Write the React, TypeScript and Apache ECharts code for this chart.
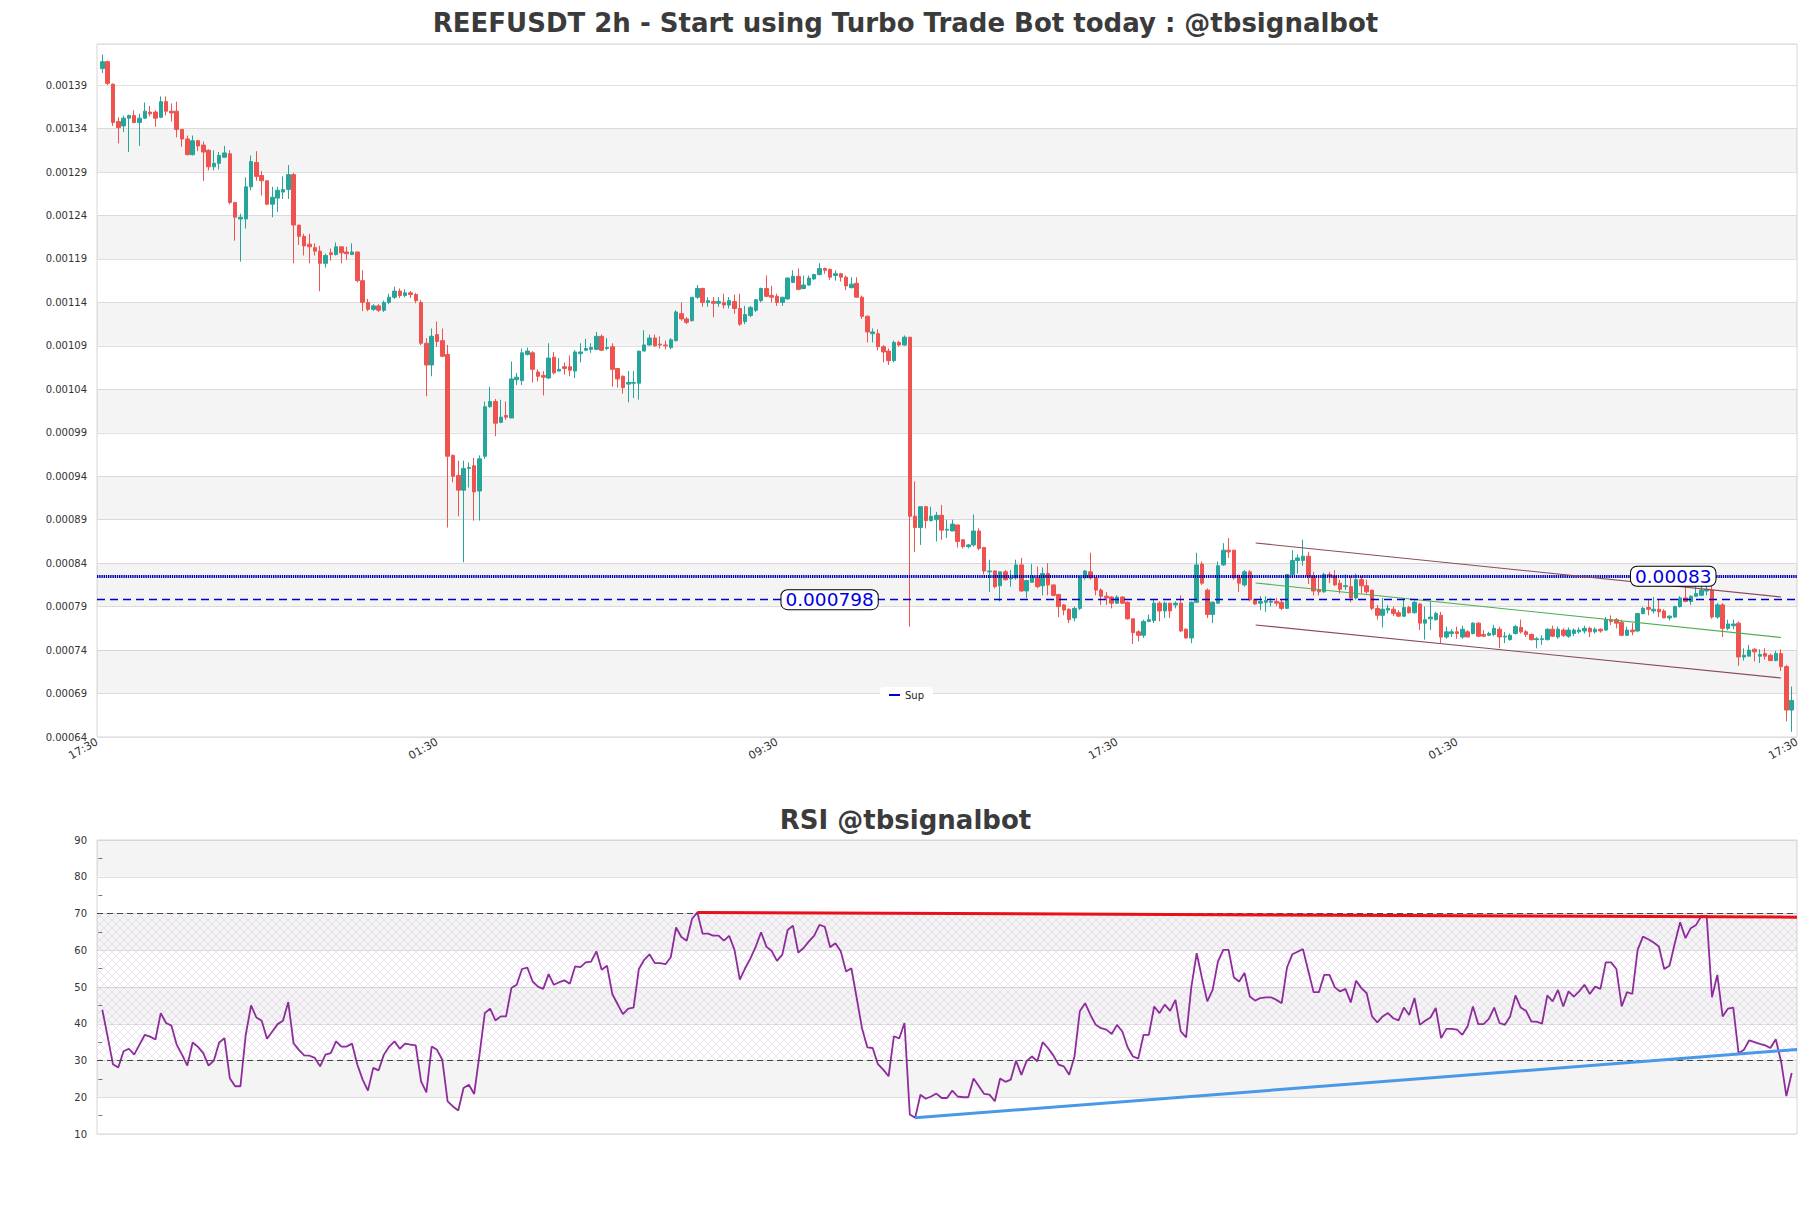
import React, { useEffect, useRef } from "react";
import * as echarts from "echarts";

const TITLE = "REEFUSDT 2h - Start using Turbo Trade Bot today : @tbsignalbot";
const RSI_TITLE = "RSI @tbsignalbot";
const X_TICK_LABELS = ["17:30", "01:30", "09:30", "17:30", "01:30", "17:30"];

// [open, high, low, close] per 2h candle
const OHLC: number[][] = [
  [0.001409,0.001425,0.001404,0.001417],[0.001417,0.001418,0.001390,0.001392],[0.001391,0.001392,0.001343,0.001347],[0.001348,0.001353,0.001323,0.001341],
  [0.001343,0.001355,0.001336,0.001352],[0.001352,0.001356,0.001313,0.001355],[0.001355,0.001361,0.001346,0.001347],[0.001347,0.001357,0.001320,0.001352],
  [0.001352,0.001370,0.001351,0.001360],[0.001359,0.001366,0.001354,0.001357],[0.001359,0.001361,0.001342,0.001352],[0.001353,0.001377,0.001352,0.001371],
  [0.001371,0.001377,0.001355,0.001360],[0.001360,0.001369,0.001348,0.001358],[0.001360,0.001371,0.001330,0.001339],[0.001339,0.001339,0.001319,0.001328],
  [0.001328,0.001332,0.001309,0.001310],[0.001310,0.001332,0.001309,0.001326],[0.001326,0.001327,0.001314,0.001320],[0.001321,0.001325,0.001280,0.001313],
  [0.001315,0.001316,0.001292,0.001296],[0.001296,0.001315,0.001292,0.001300],[0.001300,0.001313,0.001293,0.001309],[0.001307,0.001320,0.001307,0.001312],
  [0.001311,0.001315,0.001253,0.001255],[0.001255,0.001255,0.001211,0.001238],[0.001236,0.001242,0.001187,0.001238],[0.001236,0.001284,0.001225,0.001273],
  [0.001273,0.001309,0.001269,0.001302],[0.001301,0.001314,0.001280,0.001285],[0.001286,0.001291,0.001263,0.001280],[0.001280,0.001280,0.001252,0.001253],
  [0.001253,0.001273,0.001238,0.001261],[0.001260,0.001273,0.001244,0.001269],[0.001267,0.001285,0.001259,0.001270],[0.001270,0.001298,0.001259,0.001287],
  [0.001287,0.001289,0.001185,0.001229],[0.001229,0.001229,0.001206,0.001216],[0.001216,0.001219,0.001194,0.001205],[0.001207,0.001219,0.001185,0.001204],
  [0.001203,0.001208,0.001194,0.001199],[0.001199,0.001205,0.001153,0.001185],[0.001185,0.001196,0.001180,0.001194],[0.001197,0.001202,0.001188,0.001195],
  [0.001195,0.001209,0.001194,0.001204],[0.001204,0.001204,0.001185,0.001197],[0.001198,0.001204,0.001189,0.001196],[0.001195,0.001208,0.001195,0.001198],
  [0.001198,0.001198,0.001163,0.001165],[0.001165,0.001177,0.001130,0.001140],[0.001140,0.001144,0.001130,0.001132],[0.001132,0.001138,0.001130,0.001136],
  [0.001136,0.001138,0.001129,0.001131],[0.001131,0.001142,0.001129,0.001140],[0.001140,0.001150,0.001138,0.001146],[0.001146,0.001158,0.001144,0.001153],
  [0.001153,0.001156,0.001145,0.001148],[0.001148,0.001155,0.001146,0.001151],[0.001151,0.001153,0.001145,0.001149],[0.001149,0.001151,0.001139,0.001142],
  [0.001140,0.001143,0.001091,0.001093],[0.001093,0.001099,0.001032,0.001068],[0.001068,0.001110,0.001055,0.001101],[0.001103,0.001118,0.001089,0.001095],
  [0.001096,0.001110,0.001077,0.001078],[0.001080,0.001091,0.000881,0.000963],[0.000964,0.000965,0.000933,0.000940],[0.000941,0.000958,0.000894,0.000924],
  [0.000924,0.000958,0.000841,0.000949],[0.000949,0.000956,0.000927,0.000950],[0.000952,0.000961,0.000889,0.000922],[0.000923,0.000964,0.000889,0.000960],
  [0.000963,0.001026,0.000960,0.001020],[0.001020,0.001043,0.001019,0.001026],[0.001026,0.001029,0.000986,0.001001],[0.001002,0.001028,0.001001,0.001008],
  [0.001010,0.001026,0.001005,0.001008],[0.001007,0.001072,0.001007,0.001052],[0.001051,0.001059,0.001045,0.001054],[0.001050,0.001087,0.001045,0.001082],
  [0.001080,0.001088,0.001079,0.001084],[0.001082,0.001084,0.001048,0.001063],[0.001060,0.001063,0.001049,0.001055],[0.001056,0.001061,0.001033,0.001054],
  [0.001053,0.001093,0.001052,0.001076],[0.001077,0.001083,0.001057,0.001059],[0.001061,0.001076,0.001061,0.001063],[0.001066,0.001071,0.001057,0.001064],
  [0.001066,0.001079,0.001055,0.001062],[0.001061,0.001085,0.001053,0.001083],[0.001081,0.001093,0.001071,0.001083],[0.001085,0.001098,0.001084,0.001087],
  [0.001086,0.001093,0.001082,0.001088],[0.001086,0.001106,0.001085,0.001101],[0.001101,0.001103,0.001084,0.001085],[0.001087,0.001099,0.001085,0.001088],
  [0.001089,0.001093,0.001043,0.001063],[0.001064,0.001064,0.001042,0.001052],[0.001055,0.001056,0.001035,0.001042],[0.001046,0.001061,0.001025,0.001048],
  [0.001047,0.001061,0.001030,0.001048],[0.001047,0.001084,0.001028,0.001084],[0.001084,0.001108,0.001084,0.001091],[0.001091,0.001103,0.001090,0.001099],
  [0.001099,0.001103,0.001089,0.001090],[0.001092,0.001101,0.001087,0.001091],[0.001091,0.001096,0.001086,0.001090],[0.001088,0.001099,0.001086,0.001097],
  [0.001096,0.001131,0.001095,0.001129],[0.001127,0.001140,0.001119,0.001121],[0.001121,0.001123,0.001115,0.001117],[0.001119,0.001146,0.001118,0.001146],
  [0.001146,0.001160,0.001144,0.001156],[0.001156,0.001157,0.001135,0.001140],[0.001140,0.001146,0.001135,0.001142],[0.001141,0.001146,0.001123,0.001139],
  [0.001139,0.001146,0.001135,0.001141],[0.001140,0.001150,0.001133,0.001137],[0.001137,0.001146,0.001133,0.001142],[0.001141,0.001149,0.001127,0.001133],
  [0.001133,0.001150,0.001113,0.001115],[0.001118,0.001136,0.001115,0.001126],[0.001125,0.001136,0.001123,0.001134],[0.001131,0.001144,0.001129,0.001143],
  [0.001142,0.001157,0.001140,0.001156],[0.001156,0.001171,0.001146,0.001147],[0.001148,0.001159,0.001140,0.001146],[0.001147,0.001150,0.001136,0.001140],
  [0.001140,0.001146,0.001136,0.001146],[0.001144,0.001169,0.001143,0.001168],[0.001163,0.001177,0.001162,0.001170],[0.001170,0.001179,0.001154,0.001155],
  [0.001156,0.001171,0.001155,0.001160],[0.001160,0.001171,0.001159,0.001168],[0.001167,0.001173,0.001166,0.001172],[0.001172,0.001185,0.001171,0.001179],
  [0.001179,0.001180,0.001173,0.001177],[0.001178,0.001179,0.001166,0.001169],[0.001171,0.001177,0.001165,0.001173],[0.001173,0.001174,0.001164,0.001169],
  [0.001169,0.001171,0.001154,0.001159],[0.001157,0.001169,0.001156,0.001161],[0.001162,0.001169,0.001146,0.001146],[0.001146,0.001148,0.001121,0.001124],
  [0.001124,0.001125,0.001094,0.001106],[0.001104,0.001110,0.001094,0.001106],[0.001104,0.001109,0.001085,0.001089],[0.001089,0.001091,0.001071,0.001083],
  [0.001084,0.001087,0.001068,0.001073],[0.001073,0.001096,0.001071,0.001094],[0.001094,0.001096,0.001089,0.001091],[0.001091,0.001102,0.001090,0.001100],
  [0.001100,0.001100,0.000767,0.000894],[0.000894,0.000934,0.000853,0.000881],[0.000881,0.000905,0.000861,0.000905],[0.000905,0.000906,0.000880,0.000889],
  [0.000889,0.000905,0.000888,0.000894],[0.000890,0.000899,0.000865,0.000895],[0.000895,0.000907,0.000867,0.000878],[0.000878,0.000890,0.000869,0.000879],
  [0.000877,0.000890,0.000877,0.000885],[0.000884,0.000884,0.000858,0.000865],[0.000867,0.000867,0.000857,0.000859],[0.000859,0.000862,0.000857,0.000861],
  [0.000861,0.000896,0.000859,0.000877],[0.000877,0.000880,0.000855,0.000857],[0.000858,0.000858,0.000827,0.000831],[0.000830,0.000844,0.000807,0.000831],
  [0.000831,0.000832,0.000811,0.000813],[0.000814,0.000830,0.000796,0.000830],[0.000830,0.000832,0.000820,0.000821],[0.000822,0.000832,0.000813,0.000823],
  [0.000823,0.000844,0.000821,0.000838],[0.000838,0.000846,0.000807,0.000808],[0.000808,0.000821,0.000800,0.000820],[0.000818,0.000839,0.000818,0.000825],
  [0.000823,0.000836,0.000811,0.000813],[0.000814,0.000835,0.000803,0.000828],[0.000828,0.000840,0.000803,0.000815],[0.000815,0.000815,0.000802,0.000803],
  [0.000804,0.000804,0.000778,0.000790],[0.000792,0.000793,0.000780,0.000786],[0.000787,0.000788,0.000771,0.000775],[0.000777,0.000790,0.000773,0.000788],
  [0.000788,0.000825,0.000786,0.000823],[0.000823,0.000832,0.000821,0.000831],[0.000830,0.000852,0.000821,0.000823],[0.000823,0.000824,0.000803,0.000809],
  [0.000809,0.000811,0.000792,0.000802],[0.000802,0.000807,0.000792,0.000800],[0.000801,0.000802,0.000788,0.000794],[0.000794,0.000803,0.000793,0.000801],
  [0.000801,0.000802,0.000793,0.000794],[0.000795,0.000796,0.000775,0.000776],[0.000776,0.000776,0.000747,0.000760],[0.000761,0.000763,0.000750,0.000757],
  [0.000757,0.000775,0.000754,0.000773],[0.000773,0.000781,0.000772,0.000775],[0.000774,0.000798,0.000771,0.000794],[0.000794,0.000796,0.000773,0.000785],
  [0.000785,0.000796,0.000777,0.000794],[0.000794,0.000794,0.000777,0.000785],[0.000792,0.000796,0.000788,0.000794],[0.000794,0.000803,0.000761,0.000762],
  [0.000764,0.000765,0.000753,0.000754],[0.000754,0.000796,0.000748,0.000795],[0.000795,0.000852,0.000794,0.000838],[0.000839,0.000842,0.000815,0.000817],
  [0.000809,0.000811,0.000777,0.000781],[0.000781,0.000796,0.000771,0.000795],[0.000794,0.000842,0.000793,0.000837],[0.000838,0.000863,0.000837,0.000855],
  [0.000855,0.000869,0.000846,0.000853],[0.000855,0.000855,0.000821,0.000823],[0.000823,0.000827,0.000807,0.000817],[0.000815,0.000832,0.000813,0.000830],
  [0.000830,0.000832,0.000796,0.000798],[0.000798,0.000798,0.000792,0.000793],[0.000794,0.000802,0.000786,0.000796],[0.000795,0.000802,0.000784,0.000797],
  [0.000795,0.000800,0.000790,0.000796],[0.000796,0.000800,0.000791,0.000794],[0.000795,0.000798,0.000786,0.000788],[0.000788,0.000827,0.000788,0.000827],
  [0.000827,0.000855,0.000827,0.000843],[0.000843,0.000850,0.000828,0.000846],[0.000843,0.000867,0.000837,0.000848],[0.000848,0.000853,0.000816,0.000825],
  [0.000825,0.000830,0.000803,0.000808],[0.000809,0.000823,0.000803,0.000807],[0.000807,0.000829,0.000806,0.000827],[0.000827,0.000830,0.000817,0.000825],
  [0.000825,0.000832,0.000814,0.000815],[0.000817,0.000821,0.000805,0.000810],[0.000813,0.000827,0.000809,0.000814],[0.000813,0.000825,0.000795,0.000800],
  [0.000800,0.000828,0.000798,0.000821],[0.000821,0.000825,0.000805,0.000814],[0.000814,0.000821,0.000805,0.000807],[0.000809,0.000809,0.000786,0.000788],
  [0.000788,0.000792,0.000775,0.000780],[0.000780,0.000800,0.000766,0.000787],[0.000786,0.000792,0.000782,0.000788],[0.000787,0.000790,0.000779,0.000782],
  [0.000783,0.000786,0.000778,0.000779],[0.000779,0.000798,0.000778,0.000789],[0.000789,0.000791,0.000782,0.000783],[0.000783,0.000797,0.000782,0.000795],
  [0.000793,0.000794,0.000763,0.000771],[0.000771,0.000790,0.000752,0.000775],[0.000776,0.000796,0.000763,0.000778],[0.000775,0.000784,0.000774,0.000782],
  [0.000780,0.000784,0.000748,0.000755],[0.000755,0.000767,0.000753,0.000761],[0.000759,0.000764,0.000755,0.000761],[0.000761,0.000767,0.000753,0.000759],
  [0.000755,0.000768,0.000753,0.000764],[0.000761,0.000763,0.000755,0.000755],[0.000759,0.000772,0.000758,0.000771],[0.000771,0.000772,0.000755,0.000756],
  [0.000758,0.000763,0.000755,0.000756],[0.000757,0.000761,0.000756,0.000759],[0.000758,0.000769,0.000756,0.000765],[0.000764,0.000767,0.000742,0.000755],
  [0.000755,0.000761,0.000748,0.000756],[0.000752,0.000759,0.000751,0.000757],[0.000759,0.000769,0.000758,0.000767],[0.000766,0.000775,0.000759,0.000761],
  [0.000761,0.000763,0.000755,0.000758],[0.000758,0.000759,0.000751,0.000752],[0.000752,0.000755,0.000742,0.000753],[0.000752,0.000757,0.000746,0.000753],
  [0.000752,0.000765,0.000751,0.000764],[0.000764,0.000768,0.000755,0.000756],[0.000755,0.000767,0.000753,0.000764],[0.000763,0.000765,0.000755,0.000757],
  [0.000756,0.000766,0.000754,0.000763],[0.000759,0.000765,0.000756,0.000763],[0.000761,0.000766,0.000759,0.000763],[0.000762,0.000768,0.000759,0.000765],
  [0.000765,0.000767,0.000755,0.000761],[0.000761,0.000766,0.000759,0.000764],[0.000764,0.000765,0.000760,0.000762],[0.000763,0.000778,0.000762,0.000775],
  [0.000775,0.000780,0.000769,0.000773],[0.000775,0.000777,0.000765,0.000771],[0.000772,0.000775,0.000756,0.000757],[0.000757,0.000767,0.000756,0.000763],
  [0.000763,0.000771,0.000757,0.000761],[0.000762,0.000783,0.000761,0.000782],[0.000782,0.000790,0.000781,0.000788],[0.000789,0.000798,0.000780,0.000787],
  [0.000785,0.000801,0.000782,0.000787],[0.000787,0.000799,0.000778,0.000784],[0.000785,0.000787,0.000777,0.000777],[0.000777,0.000780,0.000774,0.000779],
  [0.000778,0.000791,0.000777,0.000790],[0.000790,0.000802,0.000789,0.000800],[0.000800,0.000817,0.000795,0.000796],[0.000796,0.000803,0.000792,0.000802],
  [0.000802,0.000817,0.000801,0.000805],[0.000803,0.000817,0.000802,0.000809],[0.000808,0.000817,0.000803,0.000810],[0.000809,0.000817,0.000776,0.000778],
  [0.000778,0.000794,0.000776,0.000792],[0.000792,0.000794,0.000755,0.000765],[0.000765,0.000775,0.000763,0.000770],[0.000768,0.000775,0.000764,0.000770],
  [0.000771,0.000773,0.000722,0.000732],[0.000732,0.000742,0.000728,0.000734],[0.000733,0.000746,0.000733,0.000740],[0.000741,0.000742,0.000727,0.000738],
  [0.000733,0.000741,0.000725,0.000735],[0.000736,0.000742,0.000729,0.000733],[0.000734,0.000736,0.000728,0.000728],[0.000728,0.000739,0.000727,0.000736],
  [0.000736,0.000741,0.000716,0.000721],[0.000721,0.000723,0.000658,0.000671],[0.000671,0.000698,0.000646,0.000682],
];

const RSI: number[] = [
  43.8, 36.5, 29.0, 28.1, 32.5, 33.2, 31.6, 34.3, 37.0, 36.5,
  35.7, 42.9, 40.2, 39.5, 34.3, 31.6, 28.6, 34.9, 33.7, 32.0,
  28.6, 30.0, 34.9, 36.1, 25.2, 23.0, 23.0, 37.0, 45.0, 41.7,
  40.8, 35.9, 37.9, 39.9, 40.8, 45.9, 34.7, 32.9, 31.4, 31.3,
  30.7, 28.4, 31.6, 32.0, 35.2, 33.8, 33.8, 34.6, 28.9, 24.8,
  21.8, 28.0, 27.3, 31.6, 33.8, 35.2, 33.2, 34.6, 34.3, 34.1,
  24.3, 21.3, 33.8, 32.9, 30.2, 18.9, 17.5, 16.4, 22.5, 23.4,
  20.9, 31.6, 42.9, 44.1, 40.9, 42.0, 42.0, 49.7, 50.6, 54.9,
  55.3, 51.5, 50.1, 49.5, 53.5, 50.6, 51.3, 51.8, 50.9, 55.6,
  55.4, 56.7, 56.9, 59.7, 54.7, 55.8, 48.1, 45.3, 42.6, 44.1,
  44.4, 54.9, 57.4, 58.9, 56.5, 56.5, 56.2, 58.1, 66.2, 63.6,
  62.6, 68.5, 70.3, 64.5, 64.5, 64.0, 64.0, 62.6, 63.9, 60.1,
  52.0, 55.1, 57.8, 61.0, 64.9, 61.0, 59.8, 57.1, 58.8, 65.5,
  66.7, 59.4, 60.6, 62.4, 64.0, 66.9, 66.4, 60.8, 61.9, 59.7,
  54.2, 55.1, 47.0, 38.8, 33.6, 33.4, 29.0, 27.5, 25.7, 36.6,
  36.0, 40.2, 15.3, 14.4, 20.7, 19.6, 20.2, 21.0, 19.8, 19.8,
  21.8, 20.2, 20.0, 20.0, 25.1, 23.0, 20.9, 20.7, 18.9, 25.1,
  24.2, 24.8, 29.9, 26.1, 29.9, 31.1, 29.8, 35.0, 33.4, 31.4,
  28.9, 28.4, 26.1, 31.1, 43.4, 45.6, 42.4, 39.7, 38.8, 38.4,
  37.2, 39.7, 37.9, 33.6, 31.1, 30.5, 37.0, 37.0, 44.7, 42.9,
  45.2, 43.5, 46.5, 37.9, 36.3, 50.1, 59.2, 52.4, 46.1, 49.2,
  56.9, 60.1, 60.1, 52.6, 51.5, 53.8, 47.4, 46.3, 47.0, 47.2,
  47.2, 46.5, 45.6, 55.3, 58.9, 59.6, 60.3, 54.4, 48.6, 48.6,
  53.3, 53.3, 49.9, 48.8, 49.5, 45.8, 51.7, 49.7, 48.3, 42.0,
  40.4, 42.0, 42.9, 41.5, 40.9, 44.4, 42.4, 47.0, 39.7, 40.8,
  41.7, 44.3, 36.1, 38.6, 38.6, 38.4, 37.0, 39.3, 44.7, 39.9,
  39.9, 41.3, 44.4, 40.2, 39.7, 42.0, 47.7, 44.4, 43.5, 40.6,
  40.6, 40.0, 47.7, 46.1, 49.2, 44.7, 48.8, 47.4, 48.8, 50.6,
  48.1, 50.1, 49.5, 56.7, 56.7, 54.9, 44.7, 48.6, 48.1, 60.1,
  63.7, 63.0, 62.1, 61.0, 54.9, 55.8, 61.9, 67.6, 63.3, 66.0,
  66.9, 69.3, 69.3, 47.2, 53.3, 42.0, 44.1, 44.4, 32.0, 32.9,
  35.5, 35.0, 34.5, 34.1, 33.4, 35.8, 29.8, 20.3, 26.6,
];

const X_MIN = -1;
const X_MAX = 319;

const SUP_LEVEL = 0.000798;
const SUP_LABEL = "0.000798";
const SUP_LABEL_X = 136.9;
const RES_LEVEL = 0.000825;
const RES_LABEL = "0.00083";
const RES_LABEL_X = 295.7;

// trend channel [x index, price]
const CHANNEL_UPPER = [[217.1, 0.0008632], [316.0, 0.0008011]];
const CHANNEL_MID = [[217.1, 0.0008172], [316.0, 0.0007545]];
const CHANNEL_LOWER = [[217.1, 0.0007689], [316.0, 0.0007079]];

// RSI trend lines [x index, rsi]
const RSI_RES_LINE = [[112, 70.3], [319, 69.0]];
const RSI_SUP_LINE = [[153, 14.4], [319, 33.0]];
const RSI_LEVELS = [70, 30];

const PRICE_BANDS = [
  [0.00069, 0.00074], [0.00079, 0.00084], [0.00089, 0.00094], [0.00099, 0.00104],
  [0.00109, 0.00114], [0.00119, 0.00124], [0.00129, 0.00134],
];
const RSI_BANDS = [[20, 30], [40, 50], [60, 70], [80, 90]];
const RSI_HATCH = [30, 70];

const GREEN = "#26a69a";
const RED = "#ef5350";
const FONT = "DejaVu Sans";

function makeHatch() {
  const c = document.createElement("canvas");
  c.width = 8;
  c.height = 8;
  const ctx = c.getContext("2d");
  if (ctx) {
    ctx.strokeStyle = "rgba(185,150,205,0.30)";
    ctx.lineWidth = 0.8;
    ctx.beginPath();
    ctx.moveTo(0, 0);
    ctx.lineTo(8, 8);
    ctx.moveTo(8, 0);
    ctx.lineTo(0, 8);
    ctx.stroke();
  }
  return c;
}

const hLine = (y: number, lineStyle: any) => [
  { coord: [X_MIN, y], lineStyle },
  { coord: [X_MAX, y] },
];

export default function App() {
  const ref = useRef<HTMLDivElement>(null);

  useEffect(() => {
    if (!ref.current) return;
    const chart = echarts.init(ref.current, null, { renderer: "svg", width: 1811, height: 1208 });
    const hatch = makeHatch();

    const boxLabel = {
      show: true,
      position: "inside",
      color: "#0000dd",
      fontSize: 18.5,
      fontFamily: FONT,
      backgroundColor: "#ffffff",
      borderColor: "#000000",
      borderWidth: 1,
      borderRadius: 6,
      padding: [1, 4, 0, 4],
      lineHeight: 18,
      formatter: (p: any) => p.name,
    };

    const option: any = {
      animation: false,
      backgroundColor: "#ffffff",
      textStyle: { fontFamily: FONT },
      title: [
        {
          text: TITLE,
          left: "center",
          top: 5,
          textStyle: { fontSize: 26, fontWeight: "bold", color: "#3b3b3b", fontFamily: FONT },
        },
        {
          text: RSI_TITLE,
          left: "center",
          top: 802,
          textStyle: { fontSize: 26, fontWeight: "bold", color: "#3b3b3b", fontFamily: FONT },
        },
      ],
      legend: {
        data: [{ name: "Sup", icon: "rect" }],
        left: 880,
        top: 687,
        itemWidth: 11,
        itemHeight: 2,
        itemGap: 5,
        padding: [3, 9],
        backgroundColor: "#ffffff",
        borderRadius: 4,
        textStyle: { fontSize: 10, color: "#222", fontFamily: FONT },
      },
      grid: [
        { left: 97, top: 44, width: 1700, height: 693, show: true, borderColor: "#d6d6d6", borderWidth: 1, backgroundColor: "transparent" },
        { left: 97, top: 840, width: 1700, height: 294, show: true, borderColor: "#d6d6d6", borderWidth: 1, backgroundColor: "transparent" },
      ],
      xAxis: [
        { type: "value", gridIndex: 0, min: X_MIN, max: X_MAX, show: false, position: "top" },
        {
          type: "value",
          gridIndex: 0,
          min: 0,
          max: 5,
          interval: 1,
          position: "bottom",
          axisLine: { show: false },
          axisTick: { show: false },
          splitLine: { show: false },
          axisLabel: {
            rotate: 30,
            fontSize: 11,
            color: "#333",
            margin: 4,
            fontFamily: FONT,
            hideOverlap: false,
            showMinLabel: true,
            showMaxLabel: true,
            formatter: (v: number) => X_TICK_LABELS[Math.round(v)] ?? "",
          },
        },
        { type: "value", gridIndex: 1, min: X_MIN, max: X_MAX, show: false },
      ],
      yAxis: [
        {
          type: "value",
          gridIndex: 0,
          min: 0.00064,
          max: 0.0014373,
          interval: 0.00005,
          axisLine: { show: false },
          axisTick: { show: false },
          splitLine: { show: true, lineStyle: { color: "#e0e0e0", width: 1 } },
          axisLabel: {
            fontSize: 10,
            color: "#333",
            margin: 10,
            fontFamily: FONT,
            showMaxLabel: false,
            formatter: (v: number) => v.toFixed(5),
          },
        },
        {
          type: "value",
          gridIndex: 1,
          min: 10,
          max: 90,
          interval: 10,
          axisLine: { show: false },
          axisTick: { show: false },
          minorTick: { show: true, splitNumber: 2, length: 4, lineStyle: { color: "#777" } },
          splitLine: { show: true, lineStyle: { color: "#e0e0e0", width: 1 } },
          axisLabel: { fontSize: 10, color: "#333", margin: 10, fontFamily: FONT },
        },
      ],
      series: [
        {
          type: "candlestick",
          name: "REEFUSDT",
          xAxisIndex: 0,
          yAxisIndex: 0,
          data: OHLC.map((d, i) => [i, d[0], d[3], d[2], d[1]]),
          encode: { x: 0, y: [1, 2, 3, 4] },
          barWidth: 4,
          itemStyle: { color: GREEN, color0: RED, borderColor: GREEN, borderColor0: RED, borderWidth: 1 },
          markArea: {
            silent: true,
            label: { show: false },
            itemStyle: { color: "rgba(0,0,0,0.045)" },
            data: PRICE_BANDS.map(([a, b]) => [{ yAxis: a }, { yAxis: b }]),
          },
          markLine: {
            silent: true,
            symbol: ["none", "none"],
            label: { show: false },
            data: [
              hLine(RES_LEVEL, { color: "#0000b4", type: [1.4, 0.8], width: 2.8 }),
              [
                { coord: CHANNEL_UPPER[0], lineStyle: { color: "#8a4b5e", width: 1.1, type: "solid" } },
                { coord: CHANNEL_UPPER[1] },
              ],
              [
                { coord: CHANNEL_MID[0], lineStyle: { color: "#4caf50", width: 1.1, type: "solid" } },
                { coord: CHANNEL_MID[1] },
              ],
              [
                { coord: CHANNEL_LOWER[0], lineStyle: { color: "#8a4b5e", width: 1.1, type: "solid" } },
                { coord: CHANNEL_LOWER[1] },
              ],
            ],
          },
          markPoint: {
            silent: true,
            symbol: "rect",
            symbolSize: 1,
            itemStyle: { color: "rgba(0,0,0,0)" },
            label: boxLabel,
            data: [{ name: RES_LABEL, coord: [RES_LABEL_X, RES_LEVEL] }],
          },
        },
        {
          type: "line",
          name: "Sup",
          xAxisIndex: 0,
          yAxisIndex: 0,
          data: [],
          color: "#0000cc",
          showSymbol: false,
          lineStyle: { color: "#0000cc" },
          markLine: {
            silent: true,
            symbol: ["none", "none"],
            label: { show: false },
            data: [hLine(SUP_LEVEL, { color: "#0000cc", type: [8, 5], width: 1.3 })],
          },
          markPoint: {
            silent: true,
            symbol: "rect",
            symbolSize: 1,
            itemStyle: { color: "rgba(0,0,0,0)" },
            label: boxLabel,
            data: [{ name: SUP_LABEL, coord: [SUP_LABEL_X, SUP_LEVEL] }],
          },
        },
        {
          type: "line",
          name: "RSI",
          xAxisIndex: 2,
          yAxisIndex: 1,
          data: RSI.map((v, i) => [i, v]),
          showSymbol: false,
          lineStyle: { color: "#8e2c9c", width: 1.8 },
          itemStyle: { color: "#8e2c9c" },
          z: 3,
          markArea: {
            silent: true,
            label: { show: false },
            data: [
              ...RSI_BANDS.map(([a, b]) => [
                { yAxis: a, itemStyle: { color: "rgba(0,0,0,0.045)" } },
                { yAxis: b },
              ]),
              [
                { yAxis: RSI_HATCH[0], itemStyle: { color: { image: hatch, repeat: "repeat" } } },
                { yAxis: RSI_HATCH[1] },
              ],
            ],
          },
          markLine: {
            silent: true,
            symbol: ["none", "none"],
            label: { show: false },
            data: [
              ...RSI_LEVELS.map((v) => hLine(v, { color: "#444", type: [6, 4], width: 1.1 })),
              [
                { coord: RSI_RES_LINE[0], lineStyle: { color: "#e8101a", width: 3, type: "solid" } },
                { coord: RSI_RES_LINE[1] },
              ],
              [
                { coord: RSI_SUP_LINE[0], lineStyle: { color: "#4a98e8", width: 3, type: "solid" } },
                { coord: RSI_SUP_LINE[1] },
              ],
            ],
          },
        },
      ],
    };

    chart.setOption(option);
    return () => chart.dispose();
  }, []);

  return (
    <div
      ref={ref}
      style={{ position: "absolute", left: 0, top: 0, width: 1811, height: 1208, background: "#ffffff" }}
    />
  );
}
